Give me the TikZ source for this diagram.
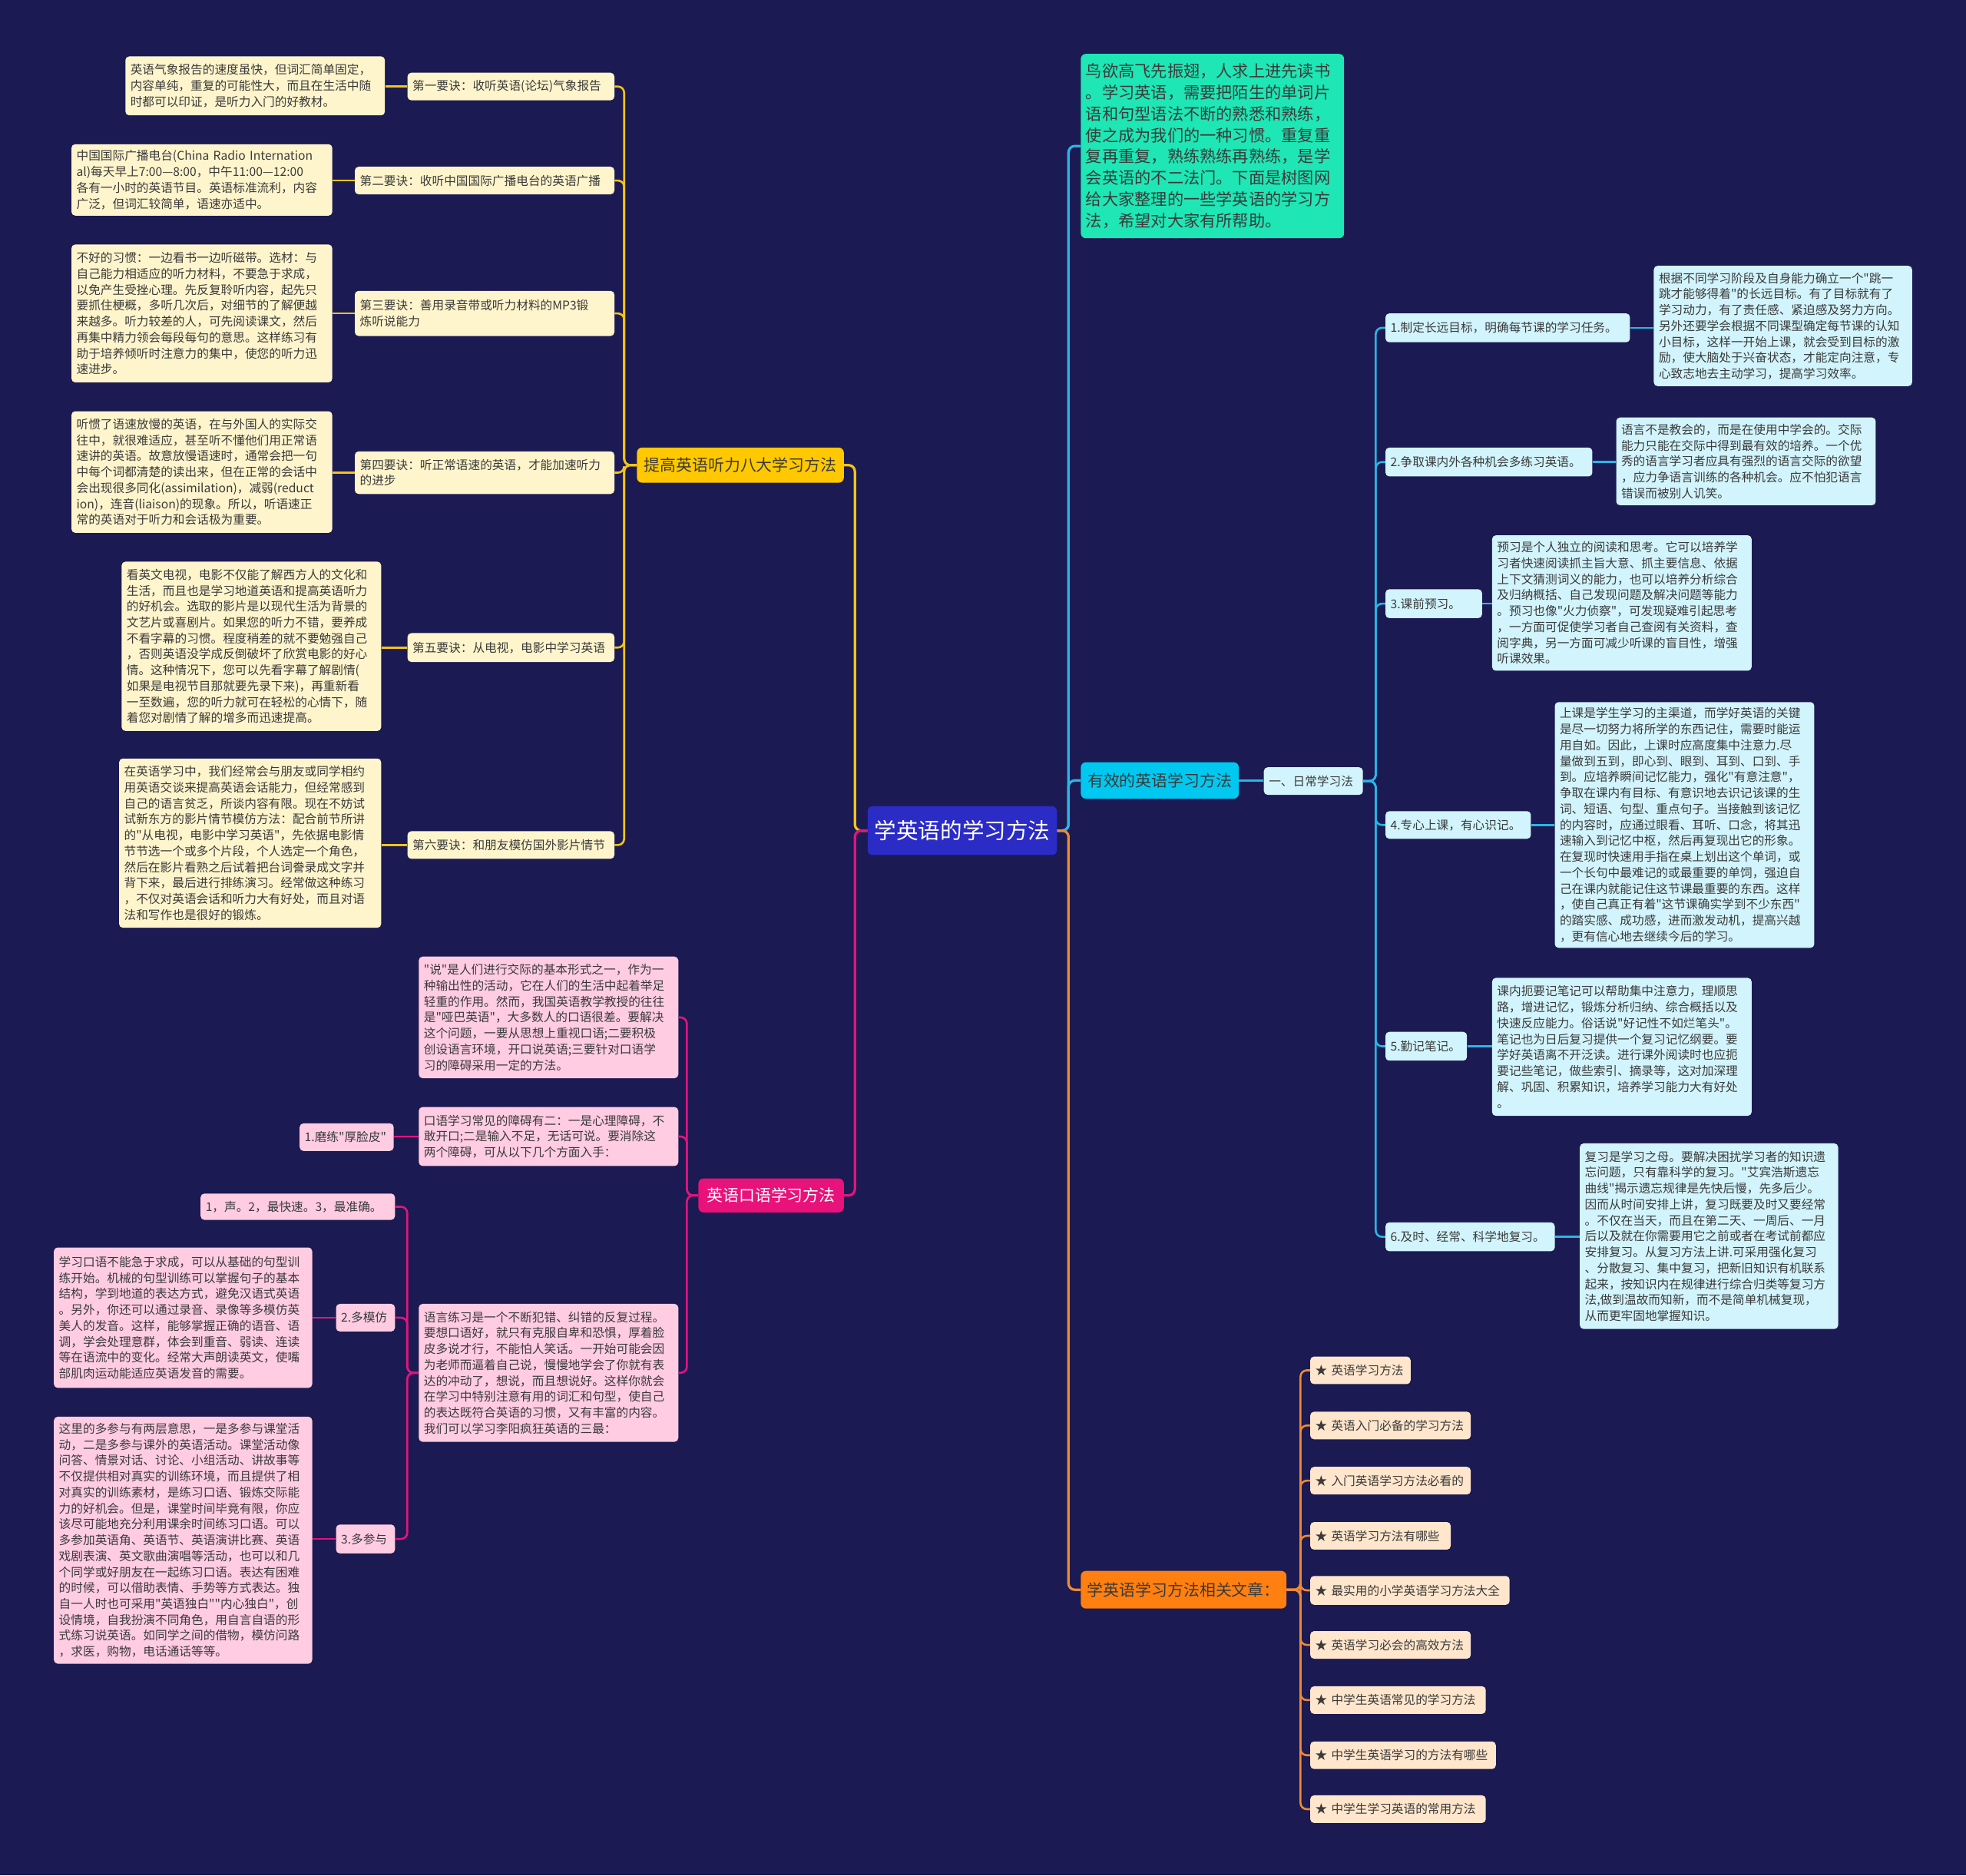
\documentclass[tikz,border=0pt]{standalone}
\usepackage{fontspec}
\setmainfont{Noto Sans CJK SC}[Ligatures=TeXOff]
\definecolor{bgc}{HTML}{1B1A52}
\definecolor{txt}{HTML}{3A3A3A}
\definecolor{rootc}{HTML}{2B2BC6}
\definecolor{yfill}{HTML}{FFC800}
\definecolor{ylight}{HTML}{FFF5CC}
\definecolor{yline}{HTML}{F2C418}
\definecolor{pfill}{HTML}{E8127A}
\definecolor{plight}{HTML}{FFCCE2}
\definecolor{pline}{HTML}{E0157D}
\definecolor{cfill}{HTML}{00C8F0}
\definecolor{clight}{HTML}{D2F4FC}
\definecolor{cline}{HTML}{2AB6E6}
\definecolor{tfill}{HTML}{1EE6B4}
\definecolor{ofill}{HTML}{FF7F11}
\definecolor{olight}{HTML}{FFE6CC}
\definecolor{oline}{HTML}{EE8A34}
\newcommand\fsbody{\fontsize{9.6}{12.7}\selectfont}
\newcommand\fsintro{\fontsize{13}{17}\selectfont}
\newcommand\fsbranch{\fontsize{12.8}{15}\selectfont}
\newcommand\fsroot{\fontsize{17.5}{20}\selectfont}
\newcommand\bx[7]{%
  \pgfmathsetmacro\mybh{#5-#3}%
  \pgfmathsetmacro\mytw{#4-#2-8}%
  \node[#6, text width=\mytw pt, minimum height=\mybh pt] (#1) at ({(#2+#4)/2},{(#3+#5)/2}) {#7};}
\tikzset{
  box/.style={rounded corners=3pt, inner xsep=4pt, inner ysep=2pt, align=left, font=\fsbody, text=txt},
  ybox/.style={box, fill=ylight},
  pbox/.style={box, fill=plight},
  cbox/.style={box, fill=clight},
  obox/.style={box, fill=olight},
  bigbox/.style={rounded corners=4pt, inner xsep=4pt, inner ysep=2pt, align=center, font=\fsbranch},
  conn/.style={line width=1.6pt, rounded corners=5pt},
  yconn/.style={conn, draw=yline},
  pconn/.style={conn, draw=pline},
  cconn/.style={conn, draw=cline},
  oconn/.style={conn, draw=oline},
}
\begin{document}
\begin{tikzpicture}[x=1pt,y=-1pt]
\fill[bgc] (0,0) rectangle (1568,1496);
\useasboundingbox (0,0) rectangle (1568,1496);

% root and main branches
\bx{root}{692}{643}{843}{682}{bigbox, fill=rootc, text=white, font=\fsroot}{学英语的学习方法}
\bx{b1}{508}{357}{673}{385}{bigbox, fill=yfill, text=txt}{提高英语听力八大学习方法}
\bx{b2}{557}{940}{673}{967}{bigbox, fill=pfill, text=white}{英语口语学习方法}
\bx{b3}{862}{608}{988}{637}{bigbox, fill=cfill, text=txt}{有效的英语学习方法}
\bx{b4}{862}{1253}{1026}{1283}{bigbox, fill=ofill, text=txt}{学英语学习方法相关文章：}
\bx{intro}{862}{43}{1072}{190}{box, fill=tfill, font=\fsintro, rounded corners=4pt}{鸟欲高飞先振翅，人求上进先读书\\。学习英语，需要把陌生的单词片\\语和句型语法不断的熟悉和熟练，\\使之成为我们的一种习惯。重复重\\复再重复，熟练熟练再熟练，是学\\会英语的不二法门。下面是树图网\\给大家整理的一些学英语的学习方\\法，希望对大家有所帮助。}

% listening branch
\bx{L1}{325}{58}{490}{80}{ybox}{第一要诀：收听英语(论坛)气象报告}
\bx{L2}{283}{133}{490}{155}{ybox}{第二要诀：收听中国国际广播电台的英语广播}
\bx{L3}{283}{232}{490}{268}{ybox}{第三要诀：善用录音带或听力材料的MP3锻\\炼听说能力}
\bx{L4}{283}{360}{490}{394}{ybox}{第四要诀：听正常语速的英语，才能加速听力\\的进步}
\bx{L5}{325}{505}{490}{528}{ybox}{第五要诀：从电视，电影中学习英语}
\bx{L6}{325}{663}{490}{685}{ybox}{第六要诀：和朋友模仿国外影片情节}
\bx{D1}{100}{45}{307}{92}{ybox}{英语气象报告的速度虽快，但词汇简单固定，\\内容单纯，重复的可能性大，而且在生活中随\\时都可以印证，是听力入门的好教材。}
\bx{D2}{57}{115}{265}{172}{ybox}{中国国际广播电台(China Radio Internation\\al)每天早上7:00—8:00，中午11:00—12:00\\各有一小时的英语节目。英语标准流利，内容\\广泛，但词汇较简单，语速亦适中。}
\bx{D3}{57}{195}{265}{305}{ybox}{不好的习惯：一边看书一边听磁带。选材：与\\自己能力相适应的听力材料，不要急于求成，\\以免产生受挫心理。先反复聆听内容，起先只\\要抓住梗概，多听几次后，对细节的了解便越\\来越多。听力较差的人，可先阅读课文，然后\\再集中精力领会每段每句的意思。这样练习有\\助于培养倾听时注意力的集中，使您的听力迅\\速进步。}
\bx{D4}{57}{328}{265}{425}{ybox}{听惯了语速放慢的英语，在与外国人的实际交\\往中，就很难适应，甚至听不懂他们用正常语\\速讲的英语。故意放慢语速时，通常会把一句\\中每个词都清楚的读出来，但在正常的会话中\\会出现很多同化(assimilation)，减弱(reduct\\ion)，连音(liaison)的现象。所以，听语速正\\常的英语对于听力和会话极为重要。}
\bx{D5}{97}{448}{304}{583}{ybox}{看英文电视，电影不仅能了解西方人的文化和\\生活，而且也是学习地道英语和提高英语听力\\的好机会。选取的影片是以现代生活为背景的\\文艺片或喜剧片。如果您的听力不错，要养成\\不看字幕的习惯。程度稍差的就不要勉强自己\\，否则英语没学成反倒破坏了欣赏电影的好心\\情。这种情况下，您可以先看字幕了解剧情(\\如果是电视节目那就要先录下来)，再重新看\\一至数遍，您的听力就可在轻松的心情下，随\\着您对剧情了解的增多而迅速提高。}
\bx{D6}{95}{605}{304}{740}{ybox}{在英语学习中，我们经常会与朋友或同学相约\\用英语交谈来提高英语会话能力，但经常感到\\自己的语言贫乏，所谈内容有限。现在不妨试\\试新东方的影片情节模仿方法：配合前节所讲\\的"从电视，电影中学习英语"，先依据电影情\\节节选一个或多个片段，个人选定一个角色，\\然后在影片看熟之后试着把台词誊录成文字并\\背下来，最后进行排练演习。经常做这种练习\\，不仅对英语会话和听力大有好处，而且对语\\法和写作也是很好的锻炼。}

% speaking branch
\bx{P1}{334}{763}{541}{860}{pbox}{"说"是人们进行交际的基本形式之一，作为一\\种输出性的活动，它在人们的生活中起着举足\\轻重的作用。然而，我国英语教学教授的往往\\是"哑巴英语"，大多数人的口语很差。要解决\\这个问题，一要从思想上重视口语;二要积极\\创设语言环境，开口说英语;三要针对口语学\\习的障碍采用一定的方法。}
\bx{P2}{334}{883}{541}{930}{pbox}{口语学习常见的障碍有二：一是心理障碍，不\\敢开口;二是输入不足，无话可说。要消除这\\两个障碍，可从以下几个方面入手：}
\bx{P3}{334}{1040}{541}{1150}{pbox}{语言练习是一个不断犯错、纠错的反复过程。\\要想口语好，就只有克服自卑和恐惧，厚着脸\\皮多说才行，不能怕人笑话。一开始可能会因\\为老师而逼着自己说，慢慢地学会了你就有表\\达的冲动了，想说，而且想说好。这样你就会\\在学习中特别注意有用的词汇和句型，使自己\\的表达既符合英语的习惯，又有丰富的内容。\\我们可以学习李阳疯狂英语的三最：}
\bx{mo}{239}{896}{314}{918}{pbox}{1.磨练"厚脸皮"}
\bx{s1}{160}{952}{315}{973}{pbox}{1，声。2，最快速。3，最准确。}
\bx{s2}{268}{1040}{315}{1062}{pbox}{2.多模仿}
\bx{s3}{268}{1216}{315}{1239}{pbox}{3.多参与}
\bx{M1}{43}{995}{249}{1107}{pbox}{学习口语不能急于求成，可以从基础的句型训\\练开始。机械的句型训练可以掌握句子的基本\\结构，学到地道的表达方式，避免汉语式英语\\。另外，你还可以通过录音、录像等多模仿英\\美人的发音。这样，能够掌握正确的语音、语\\调，学会处理意群，体会到重音、弱读、连读\\等在语流中的变化。经常大声朗读英文，使嘴\\部肌肉运动能适应英语发音的需要。}
\bx{M2}{43}{1130}{249}{1327}{pbox}{这里的多参与有两层意思，一是多参与课堂活\\动，二是多参与课外的英语活动。课堂活动像\\问答、情景对话、讨论、小组活动、讲故事等\\不仅提供相对真实的训练环境，而且提供了相\\对真实的训练素材，是练习口语、锻炼交际能\\力的好机会。但是，课堂时间毕竟有限，你应\\该尽可能地充分利用课余时间练习口语。可以\\多参加英语角、英语节、英语演讲比赛、英语\\戏剧表演、英文歌曲演唱等活动，也可以和几\\个同学或好朋友在一起练习口语。表达有困难\\的时候，可以借助表情、手势等方式表达。独\\自一人时也可采用"英语独白""内心独白"，创\\设情境，自我扮演不同角色，用自言自语的形\\式练习说英语。如同学之间的借物，模仿问路\\，求医，购物，电话通话等等。}

% effective methods branch
\bx{daily}{1008}{612}{1087}{634}{cbox}{一、日常学习法}
\bx{c1}{1105}{250}{1300}{273}{cbox}{1.制定长远目标，明确每节课的学习任务。}
\bx{c2}{1105}{357}{1270}{380}{cbox}{2.争取课内外各种机会多练习英语。}
\bx{c3}{1105}{470}{1182}{493}{cbox}{3.课前预习。}
\bx{c4}{1105}{647}{1221}{669}{cbox}{4.专心上课，有心识记。}
\bx{c5}{1105}{823}{1170}{846}{cbox}{5.勤记笔记。}
\bx{c6}{1105}{975}{1240}{998}{cbox}{6.及时、经常、科学地复习。}
\bx{e1}{1319}{212}{1525}{308}{cbox}{根据不同学习阶段及自身能力确立一个"跳一\\跳才能够得着"的长远目标。有了目标就有了\\学习动力，有了责任感、紧迫感及努力方向。\\另外还要学会根据不同课型确定每节课的认知\\小目标，这样一开始上课，就会受到目标的激\\励，使大脑处于兴奋状态，才能定向注意，专\\心致志地去主动学习，提高学习效率。}
\bx{e2}{1289}{333}{1496}{403}{cbox}{语言不是教会的，而是在使用中学会的。交际\\能力只能在交际中得到最有效的培养。一个优\\秀的语言学习者应具有强烈的语言交际的欲望\\，应力争语言训练的各种机会。应不怕犯语言\\错误而被别人讥笑。}
\bx{e3}{1190}{427}{1397}{535}{cbox}{预习是个人独立的阅读和思考。它可以培养学\\习者快速阅读抓主旨大意、抓主要信息、依据\\上下文猜测词义的能力，也可以培养分析综合\\及归纳概括、自己发现问题及解决问题等能力\\。预习也像"火力侦察"，可发现疑难引起思考\\，一方面可促使学习者自己查阅有关资料，查\\阅字典，另一方面可减少听课的盲目性，增强\\听课效果。}
\bx{e4}{1240}{560}{1447}{756}{cbox}{上课是学生学习的主渠道，而学好英语的关键\\是尽一切努力将所学的东西记住，需要时能运\\用自如。因此，上课时应高度集中注意力.尽\\量做到五到，即心到、眼到、耳到、口到、手\\到。应培养瞬间记忆能力，强化"有意注意"，\\争取在课内有目标、有意识地去识记该课的生\\词、短语、句型、重点句子。当接触到该记忆\\的内容时，应通过眼看、耳听、口念，将其迅\\速输入到记忆中枢，然后再复现出它的形象。\\在复现时快速用手指在桌上划出这个单词，或\\一个长句中最难记的或最重要的单饲，强迫自\\己在课内就能记住这节课最重要的东西。这样\\，使自己真正有着"这节课确实学到不少东西"\\的踏实感、成功感，进而激发动机，提高兴越\\，更有信心地去继续今后的学习。}
\bx{e5}{1190}{780}{1397}{890}{cbox}{课内扼要记笔记可以帮助集中注意力，理顺思\\路，增进记忆，锻炼分析归纳、综合概括以及\\快速反应能力。俗话说"好记性不如烂笔头"。\\笔记也为日后复习提供一个复习记忆纲要。要\\学好英语离不开泛读。进行课外阅读时也应扼\\要记些笔记，做些索引、摘录等，这对加深理\\解、巩固、积累知识，培养学习能力大有好处\\。}
\bx{e6}{1260}{912}{1466}{1060}{cbox}{复习是学习之母。要解决困扰学习者的知识遗\\忘问题，只有靠科学的复习。"艾宾浩斯遗忘\\曲线"揭示遗忘规律是先快后慢，先多后少。\\因而从时间安排上讲，复习既要及时又要经常\\。不仅在当天，而且在第二天、一周后、一月\\后以及就在你需要用它之前或者在考试前都应\\安排复习。从复习方法上讲.可采用强化复习\\、分散复习、集中复习，把新旧知识有机联系\\起来，按知识内在规律进行综合归类等复习方\\法,做到温故而知新，而不是简单机械复现，\\从而更牢固地掌握知识。}

% related articles
\bx{a1}{1045}{1082}{1125}{1104}{obox}{★ 英语学习方法}
\bx{a2}{1045}{1126}{1173}{1148}{obox}{★ 英语入门必备的学习方法}
\bx{a3}{1045}{1170}{1173}{1192}{obox}{★ 入门英语学习方法必看的}
\bx{a4}{1045}{1214}{1157}{1236}{obox}{★ 英语学习方法有哪些}
\bx{a5}{1045}{1257}{1204}{1280}{obox}{★ 最实用的小学英语学习方法大全}
\bx{a6}{1045}{1301}{1173}{1323}{obox}{★ 英语学习必会的高效方法}
\bx{a7}{1045}{1345}{1185}{1367}{obox}{★ 中学生英语常见的学习方法}
\bx{a8}{1045}{1389}{1193}{1411}{obox}{★ 中学生英语学习的方法有哪些}
\bx{a9}{1045}{1432}{1185}{1454}{obox}{★ 中学生学习英语的常用方法}

% connectors: root
\draw[yconn, line width=2pt] (root.west) -- ++(-10,0) |- (b1.east);
\draw[pconn, line width=2pt] (root.west) -- ++(-10,0) |- (b2.east);
\draw[cconn, line width=2pt] (root.east) -- ++(9,0) |- (intro.west);
\draw[cconn, line width=2pt] (root.east) -- ++(9,0) |- (b3.west);
\draw[oconn, line width=2pt] (root.east) -- ++(9,0) |- (b4.west);

% listening
\foreach \n in {L1,L2,L3,L4,L5,L6}{
  \draw[yconn] (b1.west) -- ++(-10,0) |- (\n.east);
}
\foreach \a/\b in {L1/D1,L2/D2,L3/D3,L4/D4,L5/D5,L6/D6}{
  \draw[yconn] (\a.west) -- (\a.west -| \b.east);
}

% speaking
\foreach \n in {P1,P2,P3}{
  \draw[pconn] (b2.west) -- ++(-9,0) |- (\n.east);
}
\draw[pconn] (P2.west) -- (P2.west -| mo.east);
\foreach \n in {s1,s2,s3}{
  \draw[pconn] (P3.west) -- ++(-9,0) |- (\n.east);
}
\draw[pconn] (s2.west) -- (s2.west -| M1.east);
\draw[pconn] (s3.west) -- (s3.west -| M2.east);

% effective
\draw[cconn] (b3.east) -- (b3.east -| daily.west);
\foreach \n in {c1,c2,c3,c4,c5,c6}{
  \draw[cconn] (daily.east) -- ++(10,0) |- (\n.west);
}
\foreach \a/\b in {c1/e1,c2/e2,c3/e3,c4/e4,c5/e5,c6/e6}{
  \draw[cconn] (\a.east) -- (\a.east -| \b.west);
}

% related
\foreach \n in {a1,a2,a3,a4,a5,a6,a7,a8,a9}{
  \draw[oconn] (b4.east) -- ++(11,0) |- (\n.west);
}
\end{tikzpicture}
\end{document}
